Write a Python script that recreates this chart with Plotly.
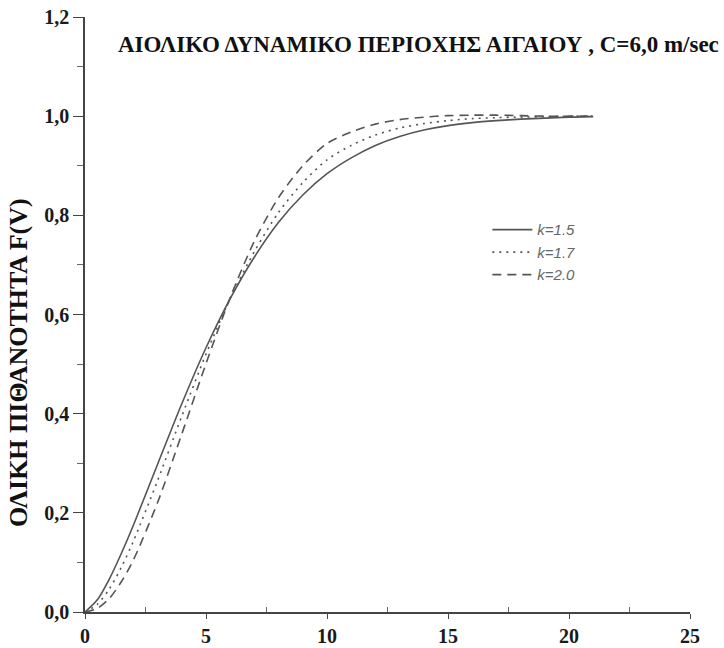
import plotly.graph_objects as go

# Wind speed V (m/sec)
v = [0, 0.5, 1, 1.5, 2, 3, 4, 5, 6, 7, 8, 9, 10, 11, 12, 13, 14, 15, 16, 17, 18, 19, 20, 21]

# Cumulative probability F(V)
f_k15 = [0.0, 0.024, 0.066, 0.118, 0.175, 0.298, 0.420, 0.533, 0.632, 0.716, 0.786, 0.841, 0.884,
         0.916, 0.941, 0.959, 0.972, 0.981, 0.987, 0.991, 0.994, 0.996, 0.998, 0.999]
f_k17 = [0.0, 0.015, 0.046, 0.090, 0.143, 0.265, 0.395, 0.520, 0.632, 0.727, 0.806, 0.866, 0.912,
         0.941, 0.962, 0.976, 0.985, 0.991, 0.995, 0.997, 0.998, 0.999, 1.0, 1.0]
f_k20 = [0.0, 0.007, 0.027, 0.061, 0.105, 0.221, 0.359, 0.501, 0.634, 0.748, 0.836, 0.900, 0.945,
         0.968, 0.984, 0.993, 0.998, 1.001, 1.002, 1.002, 1.001, 1.0, 1.0, 1.0]

series = [("k=1.5", f_k15, "solid"),
          ("k=1.7", f_k17, "2px,5px"),
          ("k=2.0", f_k20, "9px,6px")]

y_ticks = [0.0, 0.2, 0.4, 0.6, 0.8, 1.0, 1.2]
y_tick_labels = ["0,0", "0,2", "0,4", "0,6", "0,8", "1,0", "1,2"]
x_ticks = [0, 5, 10, 15, 20, 25]

title_text = "ΑΙΟΛΙΚΟ ΔΥΝΑΜΙΚΟ ΠΕΡΙΟΧΗΣ ΑΙΓΑΙΟΥ , C=6,0 m/sec"
y_title = "ΟΛΙΚΗ ΠΙΘΑΝΟΤΗΤΑ F(V)"

fig = go.Figure()
for name, vals, dash in series:
    fig.add_trace(go.Scatter(
        x=v, y=vals, mode="lines", name=name,
        line=dict(color="#555555", width=1.6, dash=dash, shape="spline", smoothing=0.8),
    ))

serif = "Liberation Serif"
fig.update_layout(
    width=724, height=648,
    margin=dict(l=85, r=34, t=17, b=36, autoexpand=False),
    paper_bgcolor="white", plot_bgcolor="white",
    showlegend=True,
    legend=dict(x=0.665, y=0.670, xanchor="left", yanchor="top",
                bgcolor="rgba(0,0,0,0)",
                font=dict(family="Liberation Sans", size=15, color="#666", style="italic"),
                tracegroupgap=0, itemwidth=40),
    xaxis=dict(range=[0, 25], tickvals=x_ticks, ticktext=[str(t) for t in x_ticks],
               automargin=False, ticklabeloverflow="allow",
               showgrid=False, zeroline=False, showline=True, linecolor="#444", linewidth=1.5,
               ticks="outside", ticklen=5, tickcolor="#444",
               minor=dict(tickvals=[2.5, 7.5, 12.5, 17.5, 22.5], ticks="inside", ticklen=5, tickcolor="#666"),
               tickfont=dict(family=serif, size=20, color="#1a1a1a", weight="bold")),
    yaxis=dict(range=[0, 1.2], tickvals=y_ticks, ticktext=y_tick_labels,
               automargin=False, ticklabeloverflow="allow",
               showgrid=False, zeroline=False, showline=True, linecolor="#444", linewidth=1.5,
               ticks="outside", ticklen=10, tickcolor="#444",
               minor=dict(tickvals=[0.1, 0.3, 0.5, 0.7, 0.9, 1.1], ticks="outside", ticklen=6, tickcolor="#666"),
               tickfont=dict(family=serif, size=20, color="#1a1a1a", weight="bold")),
    annotations=[
        dict(text=title_text, xref="paper", yref="paper", x=0.052, y=0.953,
             xanchor="left", yanchor="middle", showarrow=False,
             font=dict(family=serif, size=23, color="#111", weight="bold")),
        dict(text=y_title, xref="paper", yref="paper", x=-0.111, y=0.42,
             xanchor="center", yanchor="middle", showarrow=False, textangle=-90,
             font=dict(family=serif, size=26, color="#111", weight="bold")),
    ],
)

fig.write_html("out.html", config={"displayModeBar": False},
               post_script="document.body.style.margin='0px';")
